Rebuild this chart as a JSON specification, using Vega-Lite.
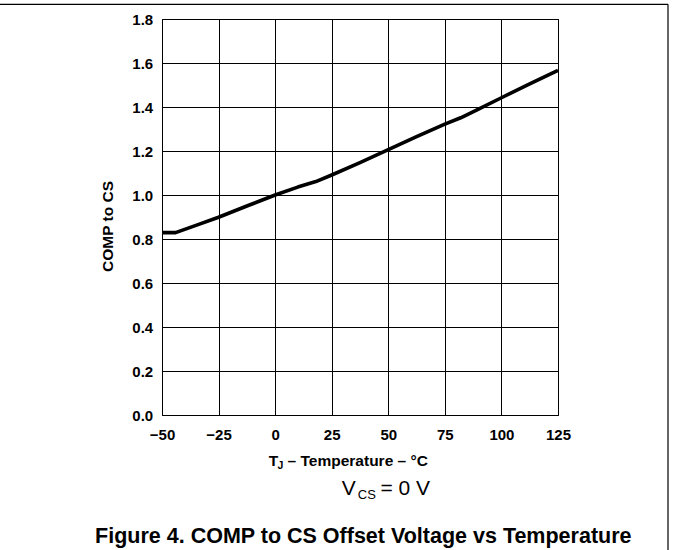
{
  "$schema": "https://vega.github.io/schema/vega-lite/v6.json",
  "width": 396,
  "height": 396,
  "autosize": "none",
  "padding": {"left": 162, "top": 19, "right": 115, "bottom": 135},
  "background": "white",
  "config": {"view": {"stroke": "black", "strokeWidth": 1}, "font": "Liberation Sans"},
  "layer": [
    {
      "data": {"values": [
        {"temp": -50, "v": 0.829},
        {"temp": -44, "v": 0.829},
        {"temp": -35, "v": 0.862},
        {"temp": -25, "v": 0.899},
        {"temp": -12.5, "v": 0.95},
        {"temp": 0, "v": 1.0},
        {"temp": 10, "v": 1.036},
        {"temp": 18, "v": 1.061},
        {"temp": 25, "v": 1.091},
        {"temp": 37.5, "v": 1.147},
        {"temp": 50, "v": 1.206},
        {"temp": 62.5, "v": 1.265},
        {"temp": 75, "v": 1.322},
        {"temp": 82, "v": 1.351},
        {"temp": 89, "v": 1.386},
        {"temp": 100, "v": 1.442},
        {"temp": 112.5, "v": 1.505},
        {"temp": 125, "v": 1.566}
      ]},
      "mark": {"type": "line", "color": "black", "strokeWidth": 3.6, "strokeJoin": "round", "clip": false},
      "encoding": {
        "x": {"field": "temp", "type": "quantitative",
          "scale": {"domain": [-50, 125], "nice": false, "zero": false},
          "axis": {"values": [-50, -25, 0, 25, 50, 75, 100, 125], "format": "d", "title": null,
            "grid": true, "gridColor": "black", "gridOpacity": 1, "gridWidth": 1,
            "domain": false, "ticks": false, "tickSize": 0,
            "labelFont": "Liberation Sans", "labelFontWeight": "bold", "labelFontSize": 15, "labelColor": "black",
            "labelPadding": 24.3, "labelBaseline": "alphabetic", "labelFlush": false, "labelOverlap": false}},
        "y": {"field": "v", "type": "quantitative",
          "scale": {"domain": [0, 1.8], "nice": false, "zero": false},
          "axis": {"values": [0, 0.2, 0.4, 0.6, 0.8, 1.0, 1.2, 1.4, 1.6, 1.8], "format": ".1f",
            "title": "COMP to CS", "titleFont": "Liberation Sans", "titleFontWeight": "bold", "titleFontSize": 15.5,
            "titleColor": "black", "titleX": -55, "titleY": 207, "titleBaseline": "middle", "titleAngle": 270,
            "grid": true, "gridColor": "black", "gridOpacity": 1, "gridWidth": 1,
            "domain": false, "ticks": false, "tickSize": 0,
            "labelFont": "Liberation Sans", "labelFontWeight": "bold", "labelFontSize": 15, "labelColor": "black",
            "labelPadding": 9.3, "labelFlush": false, "labelOverlap": false}}
      }
    },
    {
      "data": {"values": [{}]},
      "mark": {"type": "rule", "color": "black", "strokeWidth": 1.2, "clip": false},
      "encoding": {
        "x": {"datum": -121.6, "type": "quantitative"},
        "x2": {"datum": 173.61},
        "y": {"datum": 1.8668, "type": "quantitative"}
      }
    },
    {
      "data": {"values": [{}]},
      "mark": {"type": "rule", "color": "black", "strokeWidth": 1.2, "clip": false},
      "encoding": {
        "x": {"datum": 173.61, "type": "quantitative"},
        "y": {"datum": 1.8668, "type": "quantitative"},
        "y2": {"datum": -0.62}
      }
    },
    {
      "data": {"values": [{}]},
      "mark": {"type": "text", "text": "T", "font": "Liberation Sans", "fontWeight": "bold", "fontSize": 15.5, "align": "left", "baseline": "alphabetic", "color": "black"},
      "encoding": {
        "x": {"datum": -2.85, "type": "quantitative"},
        "y": {"datum": -0.2318, "type": "quantitative"}
      }
    },
    {
      "data": {"values": [{}]},
      "mark": {"type": "text", "text": "J", "font": "Liberation Sans", "fontWeight": "bold", "fontSize": 10.5, "align": "left", "baseline": "alphabetic", "color": "black"},
      "encoding": {
        "x": {"datum": 1.04, "type": "quantitative"},
        "y": {"datum": -0.2432, "type": "quantitative"}
      }
    },
    {
      "data": {"values": [{}]},
      "mark": {"type": "text", "text": "– Temperature – °C", "font": "Liberation Sans", "fontWeight": "bold", "fontSize": 15.5, "align": "left", "baseline": "alphabetic", "color": "black"},
      "encoding": {
        "x": {"datum": 5.5, "type": "quantitative"},
        "y": {"datum": -0.2318, "type": "quantitative"}
      }
    },
    {
      "data": {"values": [{}]},
      "mark": {"type": "text", "text": "V", "font": "Liberation Sans", "fontSize": 21, "align": "left", "baseline": "alphabetic", "color": "black"},
      "encoding": {
        "x": {"datum": 29.41, "type": "quantitative"},
        "y": {"datum": -0.3636, "type": "quantitative"}
      }
    },
    {
      "data": {"values": [{}]},
      "mark": {"type": "text", "text": "CS", "font": "Liberation Sans", "fontSize": 13, "align": "left", "baseline": "alphabetic", "color": "black"},
      "encoding": {
        "x": {"datum": 36.5, "type": "quantitative"},
        "y": {"datum": -0.3832, "type": "quantitative"}
      }
    },
    {
      "data": {"values": [{}]},
      "mark": {"type": "text", "text": "= 0 V", "font": "Liberation Sans", "fontSize": 21, "align": "left", "baseline": "alphabetic", "color": "black"},
      "encoding": {
        "x": {"datum": 46.56, "type": "quantitative"},
        "y": {"datum": -0.3636, "type": "quantitative"}
      }
    },
    {
      "data": {"values": [{}]},
      "mark": {"type": "text", "text": "Figure 4. COMP to CS Offset Voltage vs Temperature", "font": "Liberation Sans", "fontWeight": "bold", "fontSize": 21.5, "align": "center", "baseline": "alphabetic", "color": "black"},
      "encoding": {
        "x": {"datum": 38.96, "type": "quantitative"},
        "y": {"datum": -0.5818, "type": "quantitative"}
      }
    }
  ]
}
